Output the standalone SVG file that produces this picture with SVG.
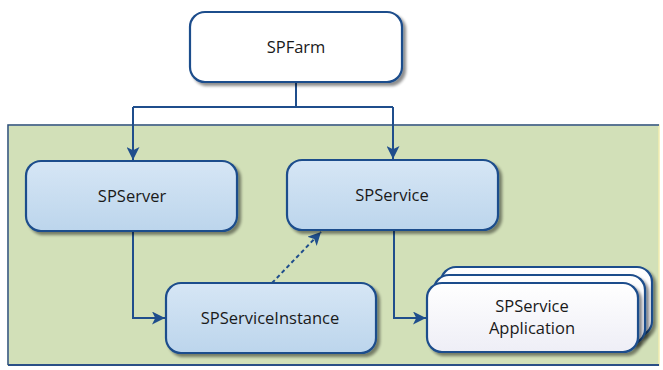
<svg xmlns="http://www.w3.org/2000/svg" width="663" height="370" viewBox="0 0 663 370">
<defs>
<linearGradient id="blue" x1="0" y1="0" x2="0" y2="1">
<stop offset="0" stop-color="#d6e6f5"/>
<stop offset="1" stop-color="#bcd5ec"/>
</linearGradient>
<linearGradient id="white" x1="0" y1="0" x2="0" y2="1">
<stop offset="0" stop-color="#ffffff"/>
<stop offset="1" stop-color="#eeeef6"/>
</linearGradient>
<filter id="sh" x="-10%" y="-10%" width="130%" height="140%">
<feGaussianBlur in="SourceAlpha" stdDeviation="1.5"/>
<feOffset dx="3" dy="3" result="b"/>
<feComponentTransfer><feFuncA type="linear" slope="0.45"/></feComponentTransfer>
<feMerge><feMergeNode/><feMergeNode in="SourceGraphic"/></feMerge>
</filter>
<marker id="arr" viewBox="0 0 10 10" refX="10" refY="5" markerWidth="7" markerHeight="6.5" markerUnits="strokeWidth" orient="auto">
<path d="M0,0 L10,5 L0,10 L2.5,5 z" fill="#1f4e8c"/>
</marker>
</defs>
<style>
.node{stroke:#1f4e8c;stroke-width:2.2}
.lbl{font-family:"Open Sans","Liberation Sans",sans-serif;font-size:16.5px;fill:#1a1a1a;text-anchor:middle}
.con{fill:none;stroke:#1f4e8c;stroke-width:2}
</style>
<rect width="663" height="370" fill="#ffffff"/>
<g id="panel">
<rect x="8" y="125" width="651" height="240" fill="#d2e0b8" stroke="#f2eeb0" stroke-width="1.5"/>
<path d="M8,365 V125 H659" fill="none" stroke="#2a4f86" stroke-width="1.5"/>
<path d="M8,365 H659" fill="none" stroke="#2a4f86" stroke-width="2"/>
</g>
<g id="connectors">
<path class="con" d="M296,82 V107"/>
<path class="con" d="M133,107 H393"/>
<path class="con" d="M133,107 V160" marker-end="url(#arr)"/>
<path class="con" d="M393,107 V159" marker-end="url(#arr)"/>
<path class="con" d="M133,231 V318 H165" marker-end="url(#arr)"/>
<path class="con" d="M394,230 V318 H426" marker-end="url(#arr)"/>
<path class="con" d="M272,283 L321,232" stroke-dasharray="4,3" marker-end="url(#arr)"/>
</g>
<g id="spfarm">
<rect class="node" x="190" y="12" width="212" height="70" rx="15" fill="#ffffff" filter="url(#sh)"/>
<text class="lbl" x="296" y="53">SPFarm</text>
</g>
<g id="spserver">
<rect class="node" x="26" y="161" width="211" height="70" rx="15" fill="url(#blue)" filter="url(#sh)"/>
<text class="lbl" x="132" y="202">SPServer</text>
</g>
<g id="spservice">
<rect class="node" x="287" y="160" width="211" height="70" rx="15" fill="url(#blue)" filter="url(#sh)"/>
<text class="lbl" x="392" y="201">SPService</text>
</g>
<g id="spserviceinstance">
<rect class="node" x="166" y="283" width="210" height="70" rx="15" fill="url(#blue)" filter="url(#sh)"/>
<text class="lbl" x="270" y="324">SPServiceInstance</text>
</g>
<g id="spserviceapplication">
<rect class="node" x="441" y="267" width="211" height="69" rx="15" fill="url(#white)" filter="url(#sh)"/>
<rect class="node" x="434" y="275" width="211" height="69" rx="15" fill="url(#white)" filter="url(#sh)"/>
<rect class="node" x="427" y="283" width="211" height="69" rx="15" fill="url(#white)" filter="url(#sh)"/>
<text class="lbl" x="532" y="312">SPService</text>
<text class="lbl" x="532" y="334">Application</text>
</g>
</svg>
